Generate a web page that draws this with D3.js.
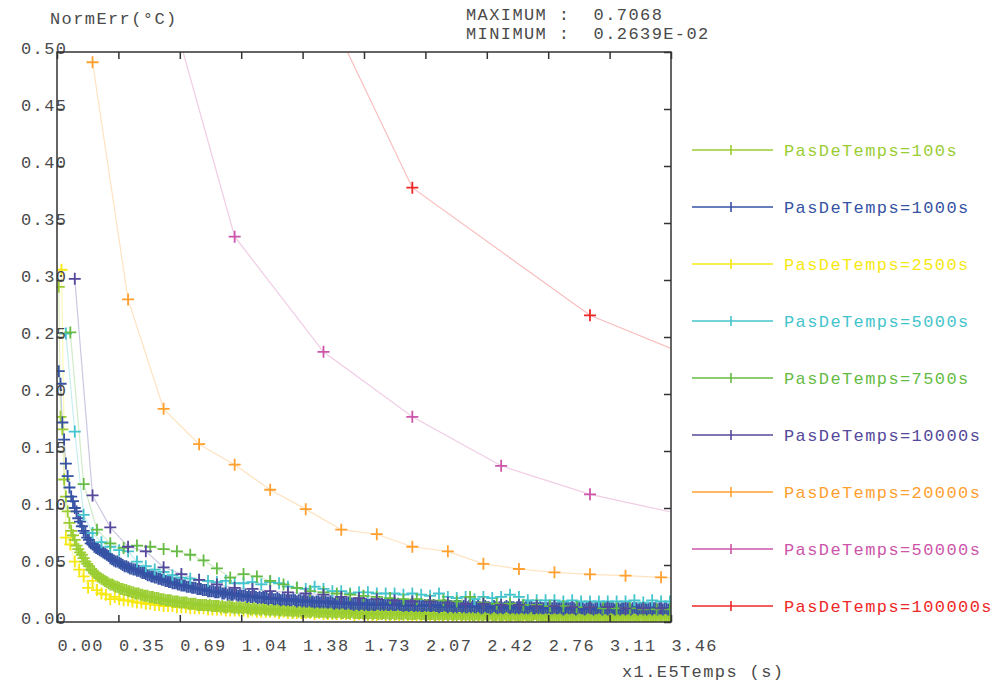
<!DOCTYPE html>
<html>
<head>
    <title>NormErr</title>
    <script src="https://d3js.org/d3.v7.min.js"></script>
    <style>
        body { margin: 0; background: #fff; }
        svg { display: block; }
        text { font-family: "Liberation Mono", "DejaVu Sans Mono", monospace; font-size: 17px; letter-spacing: 1.4px; }
    </style>
</head>
<body>
    <svg width="999" height="684"></svg>

    <script>
        // axis ticks (time in 1.E5 s, error in degC)
        const xTicks = [0, 0.3456, 0.6912, 1.0368, 1.3824, 1.728, 2.0736, 2.4192, 2.7648, 3.1104, 3.456];
        const xTickLabels = ["0.00", "0.35", "0.69", "1.04", "1.38", "1.73", "2.07", "2.42", "2.76", "3.11", "3.46"];
        const yTicks = [0, 0.05, 0.1, 0.15, 0.2, 0.25, 0.3, 0.35, 0.4, 0.45, 0.5];
        const yTickLabels = ["0.00", "0.05", "0.10", "0.15", "0.20", "0.25", "0.30", "0.35", "0.40", "0.45", "0.50"];
        const tEnd = 3.456;

        const seriesNames = ["PasDeTemps=100s", "PasDeTemps=1000s", "PasDeTemps=2500s", "PasDeTemps=5000s",
            "PasDeTemps=7500s", "PasDeTemps=10000s", "PasDeTemps=20000s", "PasDeTemps=50000s", "PasDeTemps=100000s"];
        const seriesColors = ["#9acd32", "#3652a4", "#f6e812", "#44c4cc", "#66bb44", "#54489a", "#ffa030", "#cc55aa", "#ee2828"];
        // output interval of each series (1.E5 s); the 100s run is read every 1000 s
        const seriesSteps = [0.01, 0.01, 0.025, 0.05, 0.075, 0.1, 0.2, 0.5, 1.0];

        // values, last one is at the final time tEnd
        const v100 = [
            0.294, 0.180, 0.169, 0.125, 0.110, 0.097, 0.087, 0.080, 0.076, 0.072,
            0.067, 0.064, 0.061, 0.059, 0.056, 0.053, 0.051, 0.049, 0.046, 0.045,
            0.043, 0.042, 0.040, 0.039, 0.038, 0.037, 0.036, 0.035, 0.034, 0.033,
            0.033, 0.032, 0.031, 0.031, 0.030, 0.029, 0.029, 0.028, 0.028, 0.027,
            0.027, 0.026, 0.026, 0.025, 0.025, 0.025, 0.024, 0.024, 0.023, 0.023,
            0.023, 0.022, 0.022, 0.022, 0.021, 0.021, 0.021, 0.020, 0.020, 0.020,
            0.019, 0.019, 0.019, 0.019, 0.018, 0.018, 0.018, 0.018, 0.017, 0.017,
            0.017, 0.017, 0.017, 0.016, 0.016, 0.016, 0.016, 0.016, 0.015, 0.015,
            0.015, 0.015, 0.015, 0.015, 0.014, 0.015, 0.014, 0.014, 0.014, 0.014,
            0.014, 0.013, 0.014, 0.013, 0.013, 0.013, 0.014, 0.013, 0.013, 0.012,
            0.013, 0.012, 0.013, 0.012, 0.012, 0.013, 0.012, 0.012, 0.011, 0.012,
            0.012, 0.011, 0.012, 0.011, 0.011, 0.012, 0.011, 0.011, 0.011, 0.010,
            0.011, 0.011, 0.010, 0.011, 0.010, 0.010, 0.011, 0.010, 0.010, 0.010,
            0.010, 0.010, 0.009, 0.010, 0.010, 0.009, 0.010, 0.009, 0.009, 0.010,
            0.009, 0.009, 0.009, 0.010, 0.009, 0.009, 0.009, 0.009, 0.009, 0.009,
            0.009, 0.008, 0.009, 0.009, 0.008, 0.009, 0.008, 0.009, 0.009, 0.008,
            0.008, 0.009, 0.008, 0.008, 0.008, 0.009, 0.008, 0.008, 0.008, 0.008,
            0.008, 0.008, 0.008, 0.008, 0.007, 0.008, 0.008, 0.007, 0.008, 0.008,
            0.007, 0.008, 0.007, 0.008, 0.007, 0.008, 0.007, 0.007, 0.008, 0.007,
            0.007, 0.008, 0.007, 0.007, 0.007, 0.008, 0.007, 0.007, 0.007, 0.007,
            0.007, 0.007, 0.008, 0.007, 0.007, 0.007, 0.007, 0.006, 0.007, 0.007,
            0.007, 0.007, 0.006, 0.007, 0.007, 0.007, 0.006, 0.007, 0.007, 0.006,
            0.007, 0.007, 0.006, 0.007, 0.006, 0.007, 0.007, 0.006, 0.007, 0.006,
            0.007, 0.006, 0.007, 0.006, 0.006, 0.007, 0.006, 0.007, 0.006, 0.006,
            0.007, 0.006, 0.006, 0.007, 0.006, 0.006, 0.006, 0.007, 0.006, 0.006,
            0.006, 0.007, 0.006, 0.006, 0.006, 0.006, 0.007, 0.006, 0.006, 0.006,
            0.006, 0.006, 0.007, 0.006, 0.006, 0.006, 0.006, 0.006, 0.007, 0.006,
            0.006, 0.006, 0.006, 0.005, 0.006, 0.006, 0.006, 0.006, 0.006, 0.005,
            0.006, 0.006, 0.006, 0.006, 0.005, 0.006, 0.006, 0.006, 0.005, 0.006,
            0.006, 0.006, 0.005, 0.006, 0.006, 0.006, 0.005, 0.006, 0.006, 0.005,
            0.006, 0.006, 0.005, 0.006, 0.006, 0.005, 0.006, 0.006, 0.005, 0.006,
            0.006, 0.005, 0.006, 0.005, 0.006, 0.006, 0.005, 0.006, 0.005, 0.006,
            0.005, 0.006, 0.005, 0.006, 0.005, 0.005, 0.006, 0.005, 0.006, 0.005,
            0.005, 0.006, 0.005, 0.005, 0.006, 0.005, 0.005, 0.006, 0.005, 0.005,
            0.006, 0.005, 0.005, 0.005, 0.005,
            0.005
        ];
        const v1000 = [
            0.220, 0.209, 0.175, 0.160, 0.139, 0.128, 0.118, 0.110, 0.106, 0.100,
            0.097, 0.091, 0.088, 0.084, 0.080, 0.078, 0.074, 0.072, 0.069, 0.068,
            0.066, 0.065, 0.064, 0.063, 0.062, 0.061, 0.060, 0.059, 0.058, 0.056,
            0.055, 0.054, 0.053, 0.053, 0.052, 0.051, 0.050, 0.049, 0.049, 0.048,
            0.047, 0.047, 0.046, 0.046, 0.045, 0.045, 0.044, 0.043, 0.043, 0.042,
            0.041, 0.041, 0.040, 0.040, 0.039, 0.039, 0.038, 0.038, 0.037, 0.037,
            0.036, 0.036, 0.035, 0.035, 0.034, 0.034, 0.034, 0.033, 0.033, 0.032,
            0.032, 0.032, 0.031, 0.031, 0.031, 0.030, 0.030, 0.030, 0.029, 0.029,
            0.029, 0.028, 0.028, 0.028, 0.027, 0.027, 0.027, 0.027, 0.026, 0.026,
            0.026, 0.027, 0.025, 0.025, 0.026, 0.024, 0.025, 0.024, 0.024, 0.025,
            0.024, 0.023, 0.024, 0.023, 0.023, 0.024, 0.022, 0.023, 0.022, 0.022,
            0.023, 0.022, 0.021, 0.022, 0.021, 0.022, 0.021, 0.021, 0.020, 0.021,
            0.021, 0.020, 0.020, 0.021, 0.020, 0.019, 0.020, 0.020, 0.019, 0.020,
            0.019, 0.019, 0.020, 0.019, 0.018, 0.019, 0.019, 0.018, 0.019, 0.018,
            0.018, 0.019, 0.018, 0.018, 0.017, 0.018, 0.018, 0.017, 0.018, 0.017,
            0.018, 0.017, 0.017, 0.018, 0.017, 0.016, 0.017, 0.017, 0.016, 0.017,
            0.017, 0.016, 0.016, 0.017, 0.016, 0.016, 0.015, 0.016, 0.016, 0.015,
            0.016, 0.016, 0.015, 0.016, 0.015, 0.015, 0.016, 0.015, 0.015, 0.016,
            0.016, 0.015, 0.016, 0.015, 0.016, 0.015, 0.015, 0.016, 0.015, 0.015,
            0.015, 0.016, 0.015, 0.015, 0.014, 0.015, 0.015, 0.014, 0.015, 0.015,
            0.014, 0.015, 0.014, 0.015, 0.014, 0.014, 0.015, 0.014, 0.015, 0.014,
            0.014, 0.015, 0.014, 0.014, 0.013, 0.014, 0.014, 0.015, 0.014, 0.013,
            0.014, 0.014, 0.013, 0.014, 0.013, 0.014, 0.014, 0.013, 0.014, 0.013,
            0.013, 0.014, 0.013, 0.014, 0.013, 0.013, 0.014, 0.013, 0.012, 0.013,
            0.014, 0.013, 0.013, 0.012, 0.013, 0.014, 0.013, 0.012, 0.013, 0.013,
            0.012, 0.013, 0.014, 0.013, 0.012, 0.013, 0.013, 0.012, 0.013, 0.012,
            0.013, 0.013, 0.012, 0.013, 0.012, 0.013, 0.014, 0.012, 0.012, 0.013,
            0.012, 0.013, 0.012, 0.012, 0.013, 0.012, 0.013, 0.012, 0.012, 0.013,
            0.012, 0.012, 0.013, 0.012, 0.011, 0.012, 0.013, 0.012, 0.012, 0.013,
            0.012, 0.011, 0.012, 0.013, 0.012, 0.012, 0.011, 0.012, 0.013, 0.012,
            0.012, 0.011, 0.012, 0.012, 0.013, 0.012, 0.011, 0.012, 0.012, 0.011,
            0.012, 0.013, 0.012, 0.011, 0.012, 0.012, 0.011, 0.012, 0.012, 0.011,
            0.012, 0.012, 0.011, 0.012, 0.013, 0.012, 0.011, 0.012, 0.012, 0.011,
            0.012, 0.011, 0.012, 0.012, 0.011, 0.012, 0.012, 0.011, 0.012, 0.012,
            0.011, 0.012, 0.012, 0.011, 0.012,
            0.012
        ];
        const v2500 = [
            0.309, 0.074, 0.068, 0.053, 0.046, 0.040, 0.030, 0.036, 0.028, 0.025,
            0.024, 0.020, 0.022, 0.020, 0.019, 0.019, 0.018, 0.017, 0.017, 0.016,
            0.016, 0.015, 0.015, 0.014, 0.014, 0.014, 0.013, 0.013, 0.013, 0.012,
            0.012, 0.012, 0.012, 0.011, 0.011, 0.011, 0.011, 0.010, 0.010, 0.010,
            0.010, 0.010, 0.009, 0.010, 0.009, 0.009, 0.009, 0.009, 0.009, 0.008,
            0.009, 0.008, 0.008, 0.008, 0.008, 0.008, 0.008, 0.007, 0.008, 0.007,
            0.007, 0.007, 0.007, 0.007, 0.007, 0.007, 0.006, 0.007, 0.007, 0.006,
            0.006, 0.006, 0.007, 0.006, 0.006, 0.006, 0.006, 0.006, 0.006, 0.006,
            0.006, 0.005, 0.006, 0.006, 0.005, 0.006, 0.005, 0.005, 0.006, 0.005,
            0.005, 0.005, 0.005, 0.005, 0.005, 0.005, 0.005, 0.005, 0.005, 0.005,
            0.005, 0.004, 0.005, 0.005, 0.004, 0.005, 0.004, 0.005, 0.004, 0.004,
            0.005, 0.004, 0.004, 0.004, 0.004, 0.005, 0.004, 0.004, 0.004, 0.004,
            0.004, 0.004, 0.004, 0.004, 0.004, 0.004, 0.004, 0.004, 0.004, 0.004,
            0.004, 0.004, 0.004, 0.004, 0.004, 0.004, 0.004, 0.004,
            0.004
        ];
        const v5000 = [
            0.253, 0.167, 0.094, 0.078, 0.070, 0.066, 0.063, 0.062, 0.053, 0.049,
            0.046, 0.044, 0.041, 0.039, 0.038, 0.037, 0.036, 0.035, 0.036, 0.034,
            0.034, 0.035, 0.033, 0.035, 0.034, 0.031, 0.030, 0.029, 0.031, 0.029,
            0.027, 0.027, 0.025, 0.026, 0.026, 0.025, 0.025, 0.025, 0.024, 0.025,
            0.024, 0.023, 0.025, 0.022, 0.021, 0.022, 0.020, 0.022, 0.021, 0.022,
            0.024, 0.022, 0.019, 0.019, 0.019, 0.019, 0.018, 0.019, 0.018, 0.018,
            0.018, 0.018, 0.018, 0.018, 0.019, 0.017, 0.019, 0.018, 0.018,
            0.018
        ];
        const v7500 = [
            0.254, 0.121, 0.081, 0.069, 0.065, 0.067, 0.066, 0.064, 0.062, 0.059,
            0.054, 0.047, 0.039, 0.042, 0.040, 0.036, 0.033, 0.030, 0.027, 0.026,
            0.025, 0.024, 0.023, 0.022, 0.021, 0.020, 0.020, 0.019, 0.019, 0.018,
            0.022, 0.017, 0.016, 0.016, 0.015, 0.015, 0.014, 0.014, 0.013, 0.013,
            0.012, 0.012, 0.012, 0.011, 0.011, 0.011,
            0.011
        ];
        const v10000 = [
            0.301, 0.111, 0.083, 0.066, 0.062, 0.048, 0.042, 0.037, 0.033, 0.030,
            0.029, 0.027, 0.026, 0.025, 0.024, 0.022, 0.021, 0.020, 0.019, 0.018,
            0.018, 0.017, 0.016, 0.016, 0.015, 0.015, 0.014, 0.014, 0.013, 0.013,
            0.013, 0.012, 0.012, 0.012,
            0.012
        ];
        const v20000 = [
            0.491, 0.283, 0.187, 0.156, 0.138, 0.116, 0.099, 0.081, 0.077, 0.066,
            0.062, 0.051, 0.0465, 0.0436, 0.0418, 0.0406, 0.0392,
            0.039
        ];
        const v50000 = [0.617, 0.338, 0.237, 0.180, 0.137, 0.112, 0.0965];
        const v100000 = [0.7068, 0.381, 0.269, 0.240];

        const seriesValues = [v100, v1000, v2500, v5000, v7500, v10000, v20000, v50000, v100000];
        // yellow sits under the lime band, so it is painted first
        const drawOrder = [2, 0, 1, 3, 4, 5, 6, 7, 8];

        const svg = d3.select("svg");
        const plot = { left: 57, right: 671, top: 52, bottom: 622 };
        const x = d3.scaleLinear().domain([0, tEnd]).range([plot.left, plot.right]);
        const y = d3.scaleLinear().domain([0, 0.5]).range([plot.bottom, plot.top]);

        svg.append("clipPath").attr("id", "clip")
            .append("rect")
            .attr("x", plot.left).attr("y", plot.top)
            .attr("width", plot.right - plot.left).attr("height", plot.bottom - plot.top);

        const series = seriesValues.map((vals, s) => vals.map((v, i) => ({
            t: i === vals.length - 1 ? tEnd : (i + 1) * seriesSteps[s],
            v: v,
            last: i === vals.length - 1
        })));

        const line = d3.line().x(d => x(d.t)).y(d => y(d.v));
        const cross = "M-6,0H6M0,-6V6";

        const dataG = svg.append("g").attr("clip-path", "url(#clip)");
        drawOrder.forEach(s => {
            dataG.append("path")
                .datum(series[s])
                .attr("fill", "none")
                .attr("stroke", seriesColors[s])
                .attr("stroke-opacity", 0.3)
                .attr("stroke-width", 1.2)
                .attr("d", line);
        });
        drawOrder.forEach(s => {
            dataG.append("g").selectAll("path")
                .data(series[s].filter(d => !d.last))
                .join("path")
                .attr("transform", d => `translate(${x(d.t)},${y(d.v)})`)
                .attr("d", cross)
                .attr("stroke", seriesColors[s])
                .attr("stroke-width", 1.8)
                .attr("fill", "none");
        });

        // frame and inner ticks on all four sides
        const axisColor = "#333";
        const bottomAxis = svg.append("g")
            .attr("transform", `translate(0,${plot.bottom})`)
            .call(d3.axisBottom(x).tickValues(xTicks).tickSize(-7).tickFormat((d, i) => xTickLabels[i]));
        bottomAxis.selectAll("text")
            .attr("text-anchor", "start").attr("y", 29).attr("dy", null)
            .attr("fill", "#4a4a4a").style("font-size", "17px");

        svg.append("g")
            .attr("transform", `translate(0,${plot.top})`)
            .call(d3.axisTop(x).tickValues(xTicks).tickSize(-7).tickFormat(""));

        const leftAxis = svg.append("g")
            .attr("transform", `translate(${plot.left},0)`)
            .call(d3.axisLeft(y).tickValues(yTicks).tickSize(-7).tickFormat((d, i) => yTickLabels[i]));
        leftAxis.selectAll("text")
            .attr("text-anchor", "start").attr("x", -36).attr("y", 1).attr("dy", null)
            .attr("fill", "#4a4a4a").style("font-size", "17px");

        svg.append("g")
            .attr("transform", `translate(${plot.right},0)`)
            .call(d3.axisRight(y).tickValues(yTicks).tickSize(-7).tickFormat(""));

        svg.selectAll(".domain").remove();
        svg.selectAll(".tick line").attr("stroke", axisColor).attr("stroke-width", 1.5);
        svg.append("rect")
            .attr("x", plot.left).attr("y", plot.top)
            .attr("width", plot.right - plot.left).attr("height", plot.bottom - plot.top)
            .attr("fill", "none").attr("stroke", axisColor).attr("stroke-width", 1.5);

        // header texts
        svg.append("text").attr("x", 50).attr("y", 24).attr("fill", "#4a4a4a").text("NormErr(°C)");
        svg.append("text").attr("x", 466).attr("y", 20).attr("fill", "#4a4a4a")
            .style("white-space", "pre").text("MAXIMUM :  0.7068");
        svg.append("text").attr("x", 466).attr("y", 39).attr("fill", "#4a4a4a")
            .style("white-space", "pre").text("MINIMUM :  0.2639E-02");
        svg.append("text").attr("x", 622).attr("y", 677).attr("fill", "#4a4a4a")
            .style("white-space", "pre").text("x1.E5Temps (s)");

        // legend
        const legend = svg.append("g").attr("transform", "translate(692,150)");
        seriesNames.forEach((name, i) => {
            const g = legend.append("g").attr("transform", `translate(0,${i * 57})`);
            g.append("line").attr("x1", 0).attr("x2", 81).attr("y1", 0).attr("y2", 0)
                .attr("stroke", seriesColors[i]).attr("stroke-width", 1.6);
            g.append("line").attr("x1", 39).attr("x2", 39).attr("y1", -5).attr("y2", 5)
                .attr("stroke", seriesColors[i]).attr("stroke-width", 1.6);
            g.append("text").attr("x", 92).attr("y", 6).attr("fill", seriesColors[i]).text(name);
        });
    </script>
</body>
</html>
